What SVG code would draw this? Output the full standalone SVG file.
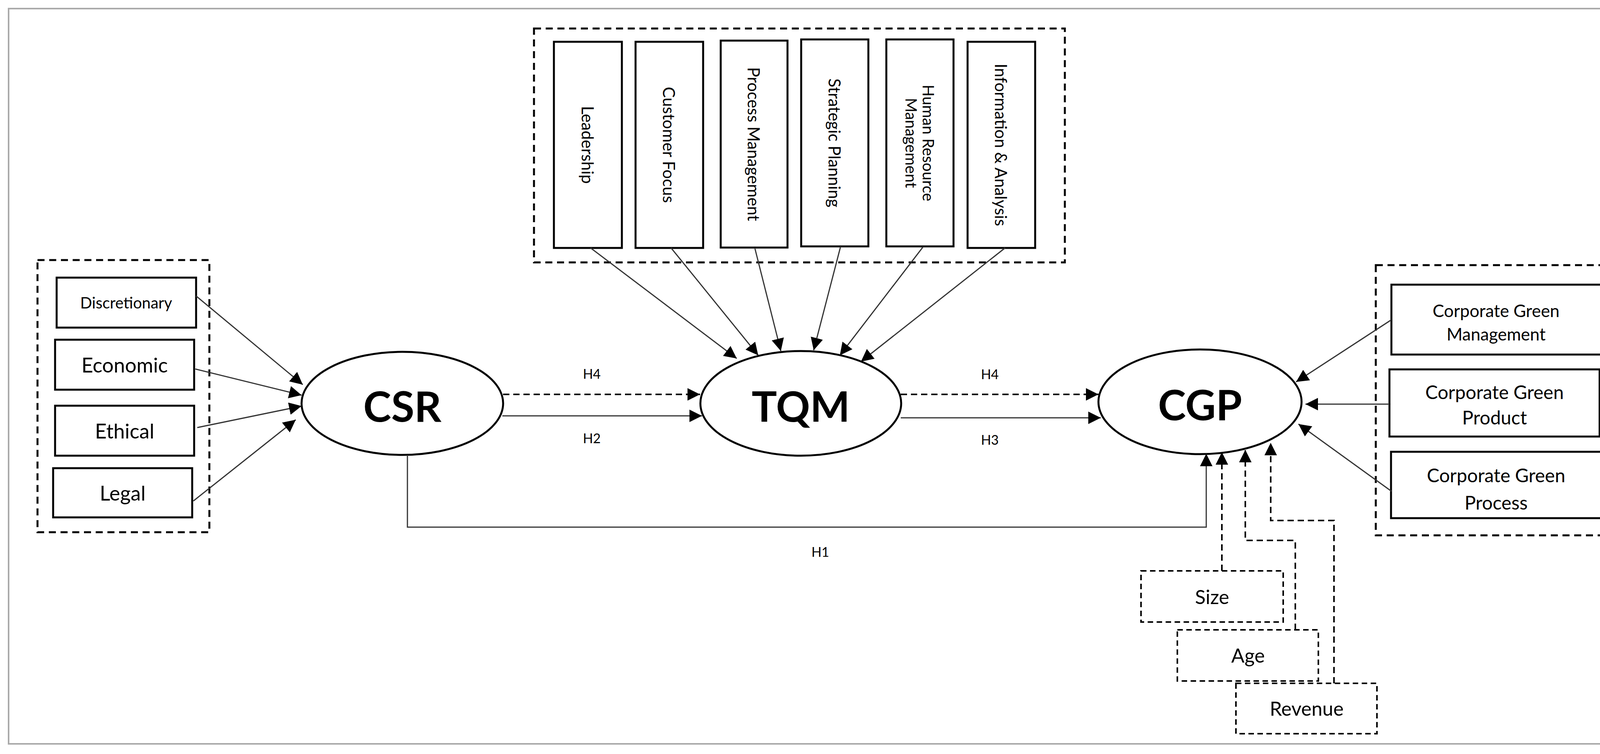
<svg xmlns="http://www.w3.org/2000/svg" width="4172" height="1931" viewBox="0 0 4172 1931">
<style>
.box{fill:#fff;stroke:#000;stroke-width:5}
.grp{fill:none;stroke:#000;stroke-width:5;stroke-dasharray:18 12}
.dbox{fill:#fff;stroke:#000;stroke-width:4;stroke-dasharray:14 9}
.ell{fill:#fff;stroke:#000;stroke-width:5}
.t{font-family:Lato,"Open Sans",sans-serif;fill:#000;text-anchor:middle;dominant-baseline:central}
.big{font-size:108px;font-weight:bold}
.c{stroke:#333;stroke-width:3;fill:none}
.cd{stroke:#000;stroke-width:4;fill:none;stroke-dasharray:16 10}
</style>
<defs>
<marker id="a" viewBox="0 0 10 10" refX="10" refY="5" markerWidth="32" markerHeight="32" markerUnits="userSpaceOnUse" orient="auto"><path d="M0,0L10,5L0,10z" fill="#000"/></marker>
</defs>
<rect x="0" y="0" width="4172" height="1931" fill="#fff"/>
<rect x="22" y="22" width="4124" height="1883" fill="none" stroke="#aaa" stroke-width="4"/>
<g id="csr-group">
<rect class="grp" x="96" y="666" width="440" height="697"/>
<g id="discretionary"><rect class="box" x="145" y="711" width="357" height="128"/><text class="t" x="323" y="775" font-size="40">Discretionary</text></g>
<g id="economic"><rect class="box" x="141" y="870" width="356" height="128"/><text class="t" x="319" y="934" font-size="52">Economic</text></g>
<g id="ethical"><rect class="box" x="141" y="1039" width="356" height="128"/><text class="t" x="319" y="1103" font-size="52">Ethical</text></g>
<g id="legal"><rect class="box" x="136" y="1199" width="356" height="126"/><text class="t" x="314" y="1262" font-size="52">Legal</text></g>
</g>
<g id="tqm-group">
<rect class="grp" x="1367" y="73" width="1359" height="599"/>
<g id="leadership"><rect class="box" x="1418" y="107" width="174" height="528"/><text class="t" font-size="42" transform="translate(1505,371) rotate(90)">Leadership</text></g>
<g id="customer-focus"><rect class="box" x="1627" y="107" width="173" height="528"/><text class="t" font-size="42" transform="translate(1713,371) rotate(90)">Customer Focus</text></g>
<g id="process-management"><rect class="box" x="1845" y="104" width="171" height="530"/><text class="t" font-size="42" transform="translate(1930,369) rotate(90)">Process Management</text></g>
<g id="strategic-planning"><rect class="box" x="2051" y="101" width="172" height="530"/><text class="t" font-size="42" transform="translate(2137,366) rotate(90)">Strategic Planning</text></g>
<g id="hrm"><rect class="box" x="2269" y="101" width="172" height="530"/><text class="t" font-size="40" transform="translate(2355,366) rotate(90)"><tspan x="0" dy="-22">Human Resource</tspan><tspan x="0" dy="44">Management</tspan></text></g>
<g id="info-analysis"><rect class="box" x="2477" y="107" width="173" height="528"/><text class="t" font-size="42" transform="translate(2563,371) rotate(90)">Information &amp; Analysis</text></g>
</g>
<g id="cgp-group">
<rect class="grp" x="3522" y="679" width="607" height="692"/>
<g id="cg-management"><rect class="box" x="3562" y="729" width="537" height="179"/><text class="t" font-size="44" x="3830" y="795">Corporate Green</text><text class="t" font-size="44" x="3830" y="855">Management</text></g>
<g id="cg-product"><rect class="box" x="3557" y="946" width="538" height="172"/><text class="t" font-size="48" x="3826" y="1003">Corporate Green</text><text class="t" font-size="48" x="3826" y="1068">Product</text></g>
<g id="cg-process"><rect class="box" x="3561" y="1157" width="538" height="170"/><text class="t" font-size="48" x="3830" y="1216">Corporate Green</text><text class="t" font-size="48" x="3830" y="1286">Process</text></g>
</g>
<g id="csr"><ellipse class="ell" cx="1030" cy="1033" rx="258" ry="132"/><text class="t big" x="1030" y="1038">CSR</text></g>
<g id="tqm"><ellipse class="ell" cx="2050" cy="1033" rx="257" ry="134"/><text class="t big" x="2050" y="1038">TQM</text></g>
<g id="cgp"><ellipse class="ell" cx="3072" cy="1029" rx="260" ry="134"/><text class="t big" x="3072" y="1034">CGP</text></g>
<g id="size"><rect class="dbox" x="2921" y="1462" width="364" height="131"/><text class="t" font-size="50" x="3103" y="1528">Size</text></g>
<g id="age"><rect class="dbox" x="3014" y="1613" width="361" height="131"/><text class="t" font-size="50" x="3195" y="1678">Age</text></g>
<g id="revenue"><rect class="dbox" x="3164" y="1750" width="361" height="129"/><text class="t" font-size="50" x="3345" y="1814">Revenue</text></g>
<g id="connectors">
<line class="c" x1="502" y1="758" x2="775" y2="985" marker-end="url(#a)"/>
<line class="c" x1="500" y1="945" x2="772" y2="1012" marker-end="url(#a)"/>
<line class="c" x1="505" y1="1095" x2="772" y2="1040" marker-end="url(#a)"/>
<line class="c" x1="495" y1="1283" x2="757" y2="1075" marker-end="url(#a)"/>
<line class="c" x1="1512" y1="635" x2="1886" y2="918" marker-end="url(#a)"/>
<line class="c" x1="1718" y1="635" x2="1941" y2="910" marker-end="url(#a)"/>
<line class="c" x1="1932" y1="634" x2="1999" y2="899" marker-end="url(#a)"/>
<line class="c" x1="2152" y1="631" x2="2083" y2="897" marker-end="url(#a)"/>
<line class="c" x1="2364" y1="631" x2="2150" y2="910" marker-end="url(#a)"/>
<line class="c" x1="2573" y1="635" x2="2204" y2="926" marker-end="url(#a)"/>
<line class="cd" x1="1288" y1="1010" x2="1792" y2="1010" marker-end="url(#a)"/>
<line class="c" x1="1286" y1="1065" x2="1797" y2="1065" marker-end="url(#a)"/>
<line class="cd" x1="2306" y1="1010" x2="2812" y2="1010" marker-end="url(#a)"/>
<line class="c" x1="2306" y1="1070" x2="2818" y2="1070" marker-end="url(#a)"/>
<polyline class="c" points="1043,1165 1043,1350 3088,1350 3088,1162" marker-end="url(#a)"/>
<line class="c" x1="3562" y1="819" x2="3318" y2="978" marker-end="url(#a)"/>
<line class="c" x1="3557" y1="1035" x2="3342" y2="1035" marker-end="url(#a)"/>
<line class="c" x1="3562" y1="1258" x2="3324" y2="1086" marker-end="url(#a)"/>
<polyline class="cd" points="3128,1462 3128,1158" marker-end="url(#a)"/>
<polyline class="cd" points="3316,1613 3316,1384 3188,1384 3188,1152" marker-end="url(#a)"/>
<polyline class="cd" points="3415,1750 3415,1333 3253,1333 3253,1134" marker-end="url(#a)"/>
<text class="t" font-size="34" x="1515" y="956">H4</text>
<text class="t" font-size="34" x="1515" y="1121">H2</text>
<text class="t" font-size="34" x="2534" y="957">H4</text>
<text class="t" font-size="34" x="2534" y="1125">H3</text>
<text class="t" font-size="34" x="2100" y="1412">H1</text>
</g>
</svg>
